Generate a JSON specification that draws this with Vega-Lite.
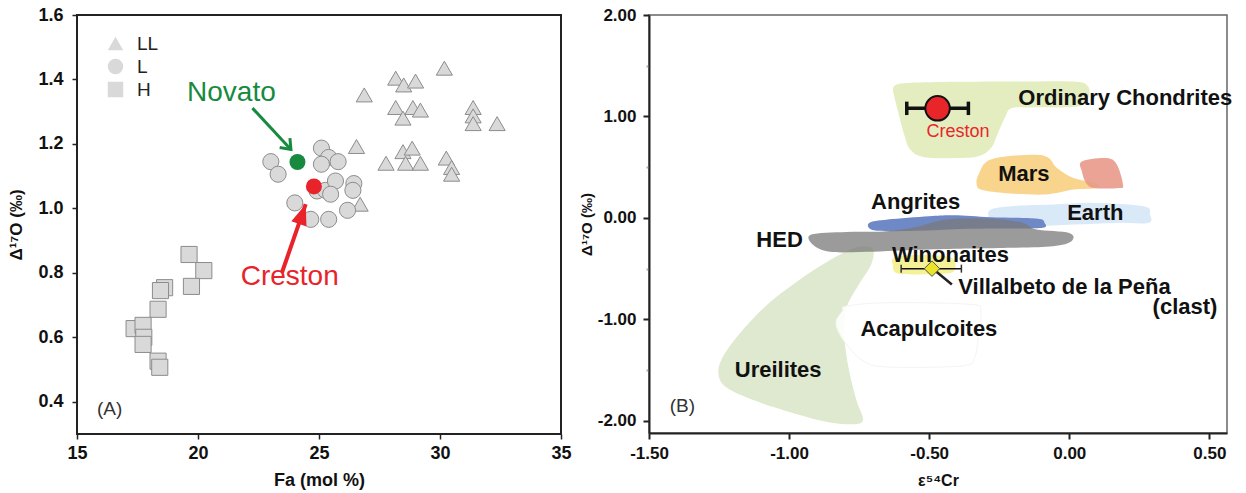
{
  "$schema": "https://vega.github.io/schema/vega-lite/v6.json",
  "background": "white",
  "padding": {"left": 6, "top": 5, "right": 5, "bottom": 2},
  "bounds": "flush",
  "spacing": 88,
  "config": {
    "font": "Liberation Sans",
    "axis": {"grid": false, "labelFont": "Liberation Sans", "titleFont": "Liberation Sans"},
    "view": {"stroke": null}
  },
  "datasets": {
    "chondrites": [
      {"group": "LL", "fa": 26.87, "d17o": 1.352}, {"group": "LL", "fa": 26.55, "d17o": 1.192},
      {"group": "LL", "fa": 26.70, "d17o": 1.013}, {"group": "LL", "fa": 27.77, "d17o": 1.140},
      {"group": "LL", "fa": 28.17, "d17o": 1.404}, {"group": "LL", "fa": 28.50, "d17o": 1.383},
      {"group": "LL", "fa": 28.17, "d17o": 1.313}, {"group": "LL", "fa": 28.47, "d17o": 1.280},
      {"group": "LL", "fa": 28.99, "d17o": 1.395}, {"group": "LL", "fa": 28.88, "d17o": 1.313},
      {"group": "LL", "fa": 29.19, "d17o": 1.305}, {"group": "LL", "fa": 28.47, "d17o": 1.176},
      {"group": "LL", "fa": 28.58, "d17o": 1.140}, {"group": "LL", "fa": 28.85, "d17o": 1.187},
      {"group": "LL", "fa": 29.19, "d17o": 1.140}, {"group": "LL", "fa": 30.18, "d17o": 1.435},
      {"group": "LL", "fa": 30.26, "d17o": 1.156}, {"group": "LL", "fa": 30.48, "d17o": 1.127},
      {"group": "LL", "fa": 30.48, "d17o": 1.106}, {"group": "LL", "fa": 31.37, "d17o": 1.313},
      {"group": "LL", "fa": 31.37, "d17o": 1.287}, {"group": "LL", "fa": 31.37, "d17o": 1.263},
      {"group": "LL", "fa": 32.36, "d17o": 1.263},
      {"group": "L", "fa": 23.01, "d17o": 1.145}, {"group": "L", "fa": 23.31, "d17o": 1.106},
      {"group": "L", "fa": 25.10, "d17o": 1.187}, {"group": "L", "fa": 25.40, "d17o": 1.158},
      {"group": "L", "fa": 25.10, "d17o": 1.137}, {"group": "L", "fa": 25.79, "d17o": 1.145},
      {"group": "L", "fa": 24.92, "d17o": 1.054}, {"group": "L", "fa": 25.27, "d17o": 1.056},
      {"group": "L", "fa": 25.68, "d17o": 1.085}, {"group": "L", "fa": 26.44, "d17o": 1.077},
      {"group": "L", "fa": 26.40, "d17o": 1.056}, {"group": "L", "fa": 25.48, "d17o": 1.044},
      {"group": "L", "fa": 24.00, "d17o": 1.017}, {"group": "L", "fa": 24.66, "d17o": 0.966},
      {"group": "L", "fa": 25.40, "d17o": 0.966}, {"group": "L", "fa": 26.18, "d17o": 0.994},
      {"group": "H", "fa": 19.63, "d17o": 0.857}, {"group": "H", "fa": 20.24, "d17o": 0.807},
      {"group": "H", "fa": 19.73, "d17o": 0.758}, {"group": "H", "fa": 18.62, "d17o": 0.754},
      {"group": "H", "fa": 18.45, "d17o": 0.745}, {"group": "H", "fa": 18.35, "d17o": 0.687},
      {"group": "H", "fa": 17.36, "d17o": 0.627}, {"group": "H", "fa": 17.73, "d17o": 0.637},
      {"group": "H", "fa": 17.76, "d17o": 0.600}, {"group": "H", "fa": 17.73, "d17o": 0.578},
      {"group": "H", "fa": 18.35, "d17o": 0.526}, {"group": "H", "fa": 18.42, "d17o": 0.507}
    ],
    "falls": [
      {"name": "Novato", "fa": 24.11, "d17o": 1.144, "lx": 21.38, "ly": 1.357},
      {"name": "Creston", "fa": 24.79, "d17o": 1.068, "lx": 23.79, "ly": 0.788}
    ],
    "arrows": [
      {"name": "Novato", "x1": 22.25, "y1": 1.311, "x2": 23.84, "y2": 1.183},
      {"name": "Creston", "x1": 23.47, "y1": 0.801, "x2": 24.45, "y2": 1.013}
    ],
    "regions": [
      {"region": "Ureilites", "i": 1, "x": -0.795, "y": -0.328},
      {"region": "Ureilites", "i": 2, "x": -0.736, "y": -0.279},
      {"region": "Ureilites", "i": 3, "x": -0.700, "y": -0.311},
      {"region": "Ureilites", "i": 4, "x": -0.707, "y": -0.459},
      {"region": "Ureilites", "i": 5, "x": -0.751, "y": -0.656},
      {"region": "Ureilites", "i": 6, "x": -0.795, "y": -0.885},
      {"region": "Ureilites", "i": 7, "x": -0.803, "y": -1.148},
      {"region": "Ureilites", "i": 8, "x": -0.788, "y": -1.475},
      {"region": "Ureilites", "i": 9, "x": -0.759, "y": -1.803},
      {"region": "Ureilites", "i": 10, "x": -0.736, "y": -1.984},
      {"region": "Ureilites", "i": 11, "x": -0.766, "y": -2.033},
      {"region": "Ureilites", "i": 12, "x": -0.854, "y": -2.016},
      {"region": "Ureilites", "i": 13, "x": -0.972, "y": -1.934},
      {"region": "Ureilites", "i": 14, "x": -1.120, "y": -1.803},
      {"region": "Ureilites", "i": 15, "x": -1.223, "y": -1.672},
      {"region": "Ureilites", "i": 16, "x": -1.252, "y": -1.541},
      {"region": "Ureilites", "i": 17, "x": -1.238, "y": -1.377},
      {"region": "Ureilites", "i": 18, "x": -1.179, "y": -1.148},
      {"region": "Ureilites", "i": 19, "x": -1.090, "y": -0.885},
      {"region": "Ureilites", "i": 20, "x": -1.002, "y": -0.689},
      {"region": "Ureilites", "i": 21, "x": -0.899, "y": -0.492},
      {"region": "Acapulcoites", "i": 1, "x": -0.795, "y": -0.869},
      {"region": "Acapulcoites", "i": 2, "x": -0.648, "y": -0.836},
      {"region": "Acapulcoites", "i": 3, "x": -0.353, "y": -0.852},
      {"region": "Acapulcoites", "i": 4, "x": -0.316, "y": -0.918},
      {"region": "Acapulcoites", "i": 5, "x": -0.324, "y": -1.148},
      {"region": "Acapulcoites", "i": 6, "x": -0.338, "y": -1.377},
      {"region": "Acapulcoites", "i": 7, "x": -0.383, "y": -1.459},
      {"region": "Acapulcoites", "i": 8, "x": -0.648, "y": -1.469},
      {"region": "Acapulcoites", "i": 9, "x": -0.736, "y": -1.410},
      {"region": "Acapulcoites", "i": 10, "x": -0.795, "y": -1.246},
      {"region": "Acapulcoites", "i": 11, "x": -0.825, "y": -1.115},
      {"region": "Acapulcoites", "i": 12, "x": -0.832, "y": -1.016},
      {"region": "Acapulcoites", "i": 13, "x": -0.810, "y": -0.918},
      {"region": "Ordinary Chondrites", "i": 1, "x": -0.626, "y": 1.295},
      {"region": "Ordinary Chondrites", "i": 2, "x": -0.589, "y": 1.328},
      {"region": "Ordinary Chondrites", "i": 3, "x": -0.450, "y": 1.340},
      {"region": "Ordinary Chondrites", "i": 4, "x": -0.206, "y": 1.344},
      {"region": "Ordinary Chondrites", "i": 5, "x": 0.015, "y": 1.344},
      {"region": "Ordinary Chondrites", "i": 6, "x": 0.067, "y": 1.295},
      {"region": "Ordinary Chondrites", "i": 7, "x": 0.067, "y": 1.180},
      {"region": "Ordinary Chondrites", "i": 8, "x": 0.030, "y": 1.098},
      {"region": "Ordinary Chondrites", "i": 9, "x": -0.132, "y": 1.089},
      {"region": "Ordinary Chondrites", "i": 10, "x": -0.206, "y": 1.082},
      {"region": "Ordinary Chondrites", "i": 11, "x": -0.228, "y": 1.000},
      {"region": "Ordinary Chondrites", "i": 12, "x": -0.257, "y": 0.820},
      {"region": "Ordinary Chondrites", "i": 13, "x": -0.279, "y": 0.689},
      {"region": "Ordinary Chondrites", "i": 14, "x": -0.324, "y": 0.607},
      {"region": "Ordinary Chondrites", "i": 15, "x": -0.397, "y": 0.590},
      {"region": "Ordinary Chondrites", "i": 16, "x": -0.515, "y": 0.597},
      {"region": "Ordinary Chondrites", "i": 17, "x": -0.567, "y": 0.672},
      {"region": "Ordinary Chondrites", "i": 18, "x": -0.589, "y": 0.820},
      {"region": "Ordinary Chondrites", "i": 19, "x": -0.611, "y": 1.049},
      {"region": "Ordinary Chondrites", "i": 20, "x": -0.626, "y": 1.213},
      {"region": "Mars", "i": 1, "x": -0.324, "y": 0.426},
      {"region": "Mars", "i": 2, "x": -0.294, "y": 0.557},
      {"region": "Mars", "i": 3, "x": -0.221, "y": 0.607},
      {"region": "Mars", "i": 4, "x": -0.117, "y": 0.623},
      {"region": "Mars", "i": 5, "x": -0.073, "y": 0.590},
      {"region": "Mars", "i": 6, "x": -0.044, "y": 0.492},
      {"region": "Mars", "i": 7, "x": 0.015, "y": 0.393},
      {"region": "Mars", "i": 8, "x": 0.089, "y": 0.344},
      {"region": "Mars", "i": 9, "x": 0.104, "y": 0.295},
      {"region": "Mars", "i": 10, "x": 0.015, "y": 0.279},
      {"region": "Mars", "i": 11, "x": -0.088, "y": 0.230},
      {"region": "Mars", "i": 12, "x": -0.235, "y": 0.246},
      {"region": "Mars", "i": 13, "x": -0.316, "y": 0.279},
      {"region": "Mars", "i": 14, "x": -0.331, "y": 0.344},
      {"region": "Other", "i": 1, "x": 0.045, "y": 0.557},
      {"region": "Other", "i": 2, "x": 0.133, "y": 0.590},
      {"region": "Other", "i": 3, "x": 0.170, "y": 0.525},
      {"region": "Other", "i": 4, "x": 0.192, "y": 0.328},
      {"region": "Other", "i": 5, "x": 0.177, "y": 0.295},
      {"region": "Other", "i": 6, "x": 0.089, "y": 0.295},
      {"region": "Other", "i": 7, "x": 0.060, "y": 0.344},
      {"region": "Other", "i": 8, "x": 0.045, "y": 0.459},
      {"region": "Earth", "i": 1, "x": -0.280, "y": 0.082},
      {"region": "Earth", "i": 2, "x": -0.206, "y": 0.115},
      {"region": "Earth", "i": 3, "x": -0.058, "y": 0.131},
      {"region": "Earth", "i": 4, "x": 0.089, "y": 0.148},
      {"region": "Earth", "i": 5, "x": 0.266, "y": 0.115},
      {"region": "Earth", "i": 6, "x": 0.288, "y": 0.033},
      {"region": "Earth", "i": 7, "x": 0.281, "y": -0.049},
      {"region": "Earth", "i": 8, "x": 0.163, "y": -0.049},
      {"region": "Earth", "i": 9, "x": 0.015, "y": -0.066},
      {"region": "Earth", "i": 10, "x": -0.132, "y": -0.082},
      {"region": "Earth", "i": 11, "x": -0.265, "y": -0.072},
      {"region": "Earth", "i": 12, "x": -0.287, "y": 0.000},
      {"region": "Angrites", "i": 1, "x": -0.714, "y": -0.049},
      {"region": "Angrites", "i": 2, "x": -0.648, "y": -0.016},
      {"region": "Angrites", "i": 3, "x": -0.501, "y": 0.016},
      {"region": "Angrites", "i": 4, "x": -0.412, "y": 0.026},
      {"region": "Angrites", "i": 5, "x": -0.280, "y": 0.007},
      {"region": "Angrites", "i": 6, "x": -0.117, "y": -0.007},
      {"region": "Angrites", "i": 7, "x": -0.088, "y": -0.049},
      {"region": "Angrites", "i": 8, "x": -0.095, "y": -0.098},
      {"region": "Angrites", "i": 9, "x": -0.206, "y": -0.105},
      {"region": "Angrites", "i": 10, "x": -0.353, "y": -0.108},
      {"region": "Angrites", "i": 11, "x": -0.501, "y": -0.125},
      {"region": "Angrites", "i": 12, "x": -0.648, "y": -0.131},
      {"region": "Angrites", "i": 13, "x": -0.707, "y": -0.115},
      {"region": "HED", "i": 1, "x": -0.921, "y": -0.164},
      {"region": "HED", "i": 2, "x": -0.795, "y": -0.138},
      {"region": "HED", "i": 3, "x": -0.648, "y": -0.131},
      {"region": "HED", "i": 4, "x": -0.540, "y": -0.085},
      {"region": "HED", "i": 5, "x": -0.440, "y": -0.015},
      {"region": "HED", "i": 6, "x": -0.290, "y": -0.005},
      {"region": "HED", "i": 7, "x": -0.170, "y": -0.045},
      {"region": "HED", "i": 8, "x": -0.117, "y": -0.115},
      {"region": "HED", "i": 9, "x": 0.000, "y": -0.148},
      {"region": "HED", "i": 10, "x": 0.008, "y": -0.230},
      {"region": "HED", "i": 11, "x": -0.058, "y": -0.279},
      {"region": "HED", "i": 12, "x": -0.206, "y": -0.295},
      {"region": "HED", "i": 13, "x": -0.501, "y": -0.311},
      {"region": "HED", "i": 14, "x": -0.722, "y": -0.334},
      {"region": "HED", "i": 15, "x": -0.854, "y": -0.334},
      {"region": "HED", "i": 16, "x": -0.916, "y": -0.262},
      {"region": "Winonaites", "i": 1, "x": -0.626, "y": -0.393},
      {"region": "Winonaites", "i": 2, "x": -0.560, "y": -0.367},
      {"region": "Winonaites", "i": 3, "x": -0.442, "y": -0.377},
      {"region": "Winonaites", "i": 4, "x": -0.409, "y": -0.426},
      {"region": "Winonaites", "i": 5, "x": -0.412, "y": -0.525},
      {"region": "Winonaites", "i": 6, "x": -0.456, "y": -0.551},
      {"region": "Winonaites", "i": 7, "x": -0.560, "y": -0.557},
      {"region": "Winonaites", "i": 8, "x": -0.619, "y": -0.541},
      {"region": "Winonaites", "i": 9, "x": -0.630, "y": -0.459}
    ],
    "samples": [
      {"name": "Creston", "x": -0.47, "y": 1.08, "xlo": -0.58, "xhi": -0.36},
      {"name": "Villalbeto de la Peña", "x": -0.49, "y": -0.50, "xlo": -0.60, "xhi": -0.385}
    ],
    "groupLabels": [
      {"label": "Ordinary Chondrites", "x": 0.20, "y": 1.18},
      {"label": "Mars", "x": -0.162, "y": 0.433},
      {"label": "Angrites", "x": -0.548, "y": 0.157},
      {"label": "Earth", "x": 0.093, "y": 0.049},
      {"label": "HED", "x": -1.034, "y": -0.213},
      {"label": "Winonaites", "x": -0.424, "y": -0.361},
      {"label": "Villalbeto de la Peña", "x": -0.017, "y": -0.682},
      {"label": "(clast)", "x": 0.413, "y": -0.879},
      {"label": "Acapulcoites", "x": -0.501, "y": -1.098},
      {"label": "Ureilites", "x": -1.039, "y": -1.502}
    ]
  },
  "hconcat": [
    {
      "width": 484,
      "height": 419,
      "view": {"stroke": "#222", "strokeWidth": 2},
      "layer": [
        {
          "data": {"name": "chondrites"},
          "mark": {"type": "point", "filled": true, "fill": "#d9d9d9", "stroke": "#8c8c8c", "strokeWidth": 1, "opacity": 1, "size": 260},
          "encoding": {
            "x": {
              "field": "fa", "type": "quantitative", "title": "Fa (mol %)",
              "scale": {"domain": [15, 35], "nice": false, "zero": false},
              "axis": {
                "domain": false, "ticks": true, "tickSize": 5, "tickColor": "#222", "tickWidth": 1.5,
                "values": [15, 20, 25, 30, 35],
                "labelFlush": false, "labelOverlap": false,
                "labelFontSize": 18, "labelFontWeight": "bold", "labelColor": "#111", "labelPadding": 5,
                "titleFontSize": 18, "titleFontWeight": "bold", "titleColor": "#111", "titlePadding": 9
              }
            },
            "y": {
              "field": "d17o", "type": "quantitative", "title": "Δ¹⁷O (‰)",
              "scale": {"domain": [0.3, 1.6], "nice": false, "zero": false},
              "axis": {
                "domain": false, "ticks": true, "tickSize": 5, "tickColor": "#222", "tickWidth": 1.5,
                "values": [0.4, 0.6, 0.8, 1.0, 1.2, 1.4, 1.6],
                "labelExpr": "format(datum.value, '.1f')",
                "labelFlush": false, "labelOverlap": false,
                "labelFontSize": 18, "labelFontWeight": "bold", "labelColor": "#111", "labelPadding": 9,
                "titleFontSize": 17, "titleFontWeight": "bold", "titleColor": "#111", "titlePadding": 12
              }
            },
            "shape": {
              "field": "group", "type": "nominal",
              "scale": {"domain": ["LL", "L", "H"], "range": ["triangle-up", "circle", "square"]},
              "legend": {
                "title": null, "orient": "top-left", "offset": 19, "padding": 0,
                "symbolSize": 240, "symbolOffset": 10, "symbolFillColor": "#d9d9d9", "symbolStrokeColor": "#555", "symbolStrokeWidth": 1,
                "labelFontSize": 19, "labelColor": "#222", "labelOffset": 12, "rowPadding": 2
              }
            }
          }
        },
        {
          "data": {"name": "falls"},
          "mark": {"type": "point", "filled": true, "opacity": 1, "size": 256, "strokeWidth": 0},
          "encoding": {
            "x": {"field": "fa", "type": "quantitative", "title": "Fa (mol %)"},
            "y": {"field": "d17o", "type": "quantitative", "title": "Δ¹⁷O (‰)"},
            "color": {"field": "name", "type": "nominal", "scale": {"domain": ["Novato", "Creston"], "range": ["#178a3f", "#e8232a"]}, "legend": null}
          }
        },
        {
          "data": {"name": "falls"},
          "mark": {"type": "text", "fontSize": 28, "baseline": "middle", "align": "center"},
          "encoding": {
            "x": {"field": "lx", "type": "quantitative", "title": "Fa (mol %)"},
            "y": {"field": "ly", "type": "quantitative", "title": "Δ¹⁷O (‰)"},
            "text": {"field": "name"},
            "color": {"field": "name", "type": "nominal", "legend": null}
          }
        },
        {
          "data": {"name": "arrows"},
          "transform": [{"filter": "datum.name === 'Novato'"}],
          "mark": {"type": "rule", "color": "#178a3f", "strokeWidth": 3},
          "encoding": {
            "x": {"field": "x1", "type": "quantitative", "title": "Fa (mol %)"},
            "y": {"field": "y1", "type": "quantitative", "title": "Δ¹⁷O (‰)"},
            "x2": {"field": "x2"},
            "y2": {"field": "y2"}
          }
        },
        {
          "data": {"name": "arrows"},
          "transform": [{"filter": "datum.name === 'Novato'"}],
          "mark": {"type": "point", "shape": "M-0.7,0.9L0,0L0.7,0.9", "filled": false, "stroke": "#178a3f", "strokeWidth": 3, "opacity": 1, "size": 400, "angle": 137},
          "encoding": {
            "x": {"field": "x2", "type": "quantitative", "title": "Fa (mol %)"},
            "y": {"field": "y2", "type": "quantitative", "title": "Δ¹⁷O (‰)"}
          }
        },
        {
          "data": {"name": "arrows"},
          "transform": [{"filter": "datum.name === 'Creston'"}],
          "mark": {"type": "rule", "color": "#e8232a", "strokeWidth": 4},
          "encoding": {
            "x": {"field": "x1", "type": "quantitative", "title": "Fa (mol %)"},
            "y": {"field": "y1", "type": "quantitative", "title": "Δ¹⁷O (‰)"},
            "x2": {"field": "x2"},
            "y2": {"field": "y2"}
          }
        },
        {
          "data": {"name": "arrows"},
          "transform": [{"filter": "datum.name === 'Creston'"}],
          "mark": {"type": "point", "shape": "M0,0L-1,2.6L1,2.6Z", "filled": true, "fill": "#e8232a", "strokeWidth": 0, "opacity": 1, "size": 256, "angle": 19},
          "encoding": {
            "x": {"field": "x2", "type": "quantitative", "title": "Fa (mol %)"},
            "y": {"field": "y2", "type": "quantitative", "title": "Δ¹⁷O (‰)"}
          }
        },
        {
          "data": {"values": [{"tag": "(A)", "x": 16.35, "y": 0.378}]},
          "mark": {"type": "text", "fontSize": 19, "color": "#333", "align": "center", "baseline": "middle"},
          "encoding": {
            "x": {"field": "x", "type": "quantitative", "title": "Fa (mol %)"},
            "y": {"field": "y", "type": "quantitative", "title": "Δ¹⁷O (‰)"},
            "text": {"field": "tag"}
          }
        }
      ]
    },
    {
      "width": 578,
      "height": 418,
      "view": {"stroke": "#666", "strokeWidth": 1.5},
      "layer": [
        {
          "data": {"name": "regions"},
          "transform": [{"filter": "datum.region === 'Ureilites'"}],
          "mark": {"type": "line", "interpolate": "cardinal-closed", "fill": "#dfe9cf", "strokeWidth": 0},
          "encoding": {
            "x": {
              "field": "x", "type": "quantitative", "title": "ε⁵⁴Cr",
              "scale": {"domain": [-1.5, 0.563], "nice": false, "zero": false},
              "axis": {
                "values": [-1.5, -1, -0.5, 0, 0.5],
                "labelExpr": "replace(format(datum.value, '.2f'), '−', '-')",
                "labelFlush": false, "labelOverlap": false,
                "labelFontSize": 17, "labelFontWeight": "bold", "labelColor": "#111", "labelPadding": 6,
                "tickSize": 6, "tickColor": "#222", "tickWidth": 2,
                "domainColor": "#222", "domainWidth": 2,
                "titleFontSize": 16, "titleFontWeight": "bold", "titleColor": "#111", "titlePadding": 11
              }
            },
            "y": {
              "field": "y", "type": "quantitative", "title": "Δ¹⁷O (‰)",
              "scale": {"domain": [-2.12, 2.0], "nice": false, "zero": false},
              "axis": {
                "values": [-2, -1.5, -1, -0.5, 0, 0.5, 1, 1.5, 2],
                "labelExpr": "abs(datum.value % 1) < 0.01 ? replace(format(datum.value, '.2f'), '−', '-') : ''",
                "labelFlush": false, "labelOverlap": false,
                "labelFontSize": 17, "labelFontWeight": "bold", "labelColor": "#111", "labelPadding": 7,
                "tickSize": {"condition": {"test": "abs(datum.value % 1) > 0.01", "value": 3}, "value": 6},
                "tickColor": {"condition": {"test": "abs(datum.value % 1) > 0.01", "value": "#aaa"}, "value": "#222"},
                "tickWidth": 2,
                "domainColor": "#222", "domainWidth": 2,
                "titleFontSize": 15, "titleFontWeight": "bold", "titleColor": "#111", "titlePadding": 3
              }
            },
            "order": {"field": "i", "type": "quantitative"}
          }
        },
        {
          "data": {"name": "regions"},
          "transform": [{"filter": "datum.region === 'Acapulcoites'"}],
          "mark": {"type": "line", "interpolate": "cardinal-closed", "fill": "#ffffff", "fillOpacity": 0.88, "stroke": "#f3f5f1", "strokeWidth": 1},
          "encoding": {
            "x": {"field": "x", "type": "quantitative", "title": "ε⁵⁴Cr"},
            "y": {"field": "y", "type": "quantitative", "title": "Δ¹⁷O (‰)"},
            "order": {"field": "i", "type": "quantitative"}
          }
        },
        {
          "data": {"name": "regions"},
          "transform": [{"filter": "datum.region === 'Ordinary Chondrites'"}],
          "mark": {"type": "line", "interpolate": "cardinal-closed", "fill": "#e3edc0", "strokeWidth": 0},
          "encoding": {
            "x": {"field": "x", "type": "quantitative", "title": "ε⁵⁴Cr"},
            "y": {"field": "y", "type": "quantitative", "title": "Δ¹⁷O (‰)"},
            "order": {"field": "i", "type": "quantitative"}
          }
        },
        {
          "data": {"name": "regions"},
          "transform": [{"filter": "datum.region === 'Mars'"}],
          "mark": {"type": "line", "interpolate": "cardinal-closed", "fill": "#f9d48c", "strokeWidth": 0},
          "encoding": {
            "x": {"field": "x", "type": "quantitative", "title": "ε⁵⁴Cr"},
            "y": {"field": "y", "type": "quantitative", "title": "Δ¹⁷O (‰)"},
            "order": {"field": "i", "type": "quantitative"}
          }
        },
        {
          "data": {"name": "regions"},
          "transform": [{"filter": "datum.region === 'Other'"}],
          "mark": {"type": "line", "interpolate": "cardinal-closed", "fill": "#e8998a", "fillOpacity": 0.9, "strokeWidth": 0},
          "encoding": {
            "x": {"field": "x", "type": "quantitative", "title": "ε⁵⁴Cr"},
            "y": {"field": "y", "type": "quantitative", "title": "Δ¹⁷O (‰)"},
            "order": {"field": "i", "type": "quantitative"}
          }
        },
        {
          "data": {"name": "regions"},
          "transform": [{"filter": "datum.region === 'Earth'"}],
          "mark": {"type": "line", "interpolate": "cardinal-closed", "fill": "#d9e9f8", "strokeWidth": 0},
          "encoding": {
            "x": {"field": "x", "type": "quantitative", "title": "ε⁵⁴Cr"},
            "y": {"field": "y", "type": "quantitative", "title": "Δ¹⁷O (‰)"},
            "order": {"field": "i", "type": "quantitative"}
          }
        },
        {
          "data": {"name": "regions"},
          "transform": [{"filter": "datum.region === 'Angrites'"}],
          "mark": {"type": "line", "interpolate": "cardinal-closed", "fill": "#6f89c6", "strokeWidth": 0},
          "encoding": {
            "x": {"field": "x", "type": "quantitative", "title": "ε⁵⁴Cr"},
            "y": {"field": "y", "type": "quantitative", "title": "Δ¹⁷O (‰)"},
            "order": {"field": "i", "type": "quantitative"}
          }
        },
        {
          "data": {"name": "regions"},
          "transform": [{"filter": "datum.region === 'HED'"}],
          "mark": {"type": "line", "interpolate": "cardinal-closed", "fill": "#7a7a7a", "fillOpacity": 0.75, "strokeWidth": 0},
          "encoding": {
            "x": {"field": "x", "type": "quantitative", "title": "ε⁵⁴Cr"},
            "y": {"field": "y", "type": "quantitative", "title": "Δ¹⁷O (‰)"},
            "order": {"field": "i", "type": "quantitative"}
          }
        },
        {
          "data": {"name": "regions"},
          "transform": [{"filter": "datum.region === 'Winonaites'"}],
          "mark": {"type": "line", "interpolate": "cardinal-closed", "fill": "#f3ef8e", "fillOpacity": 0.9, "strokeWidth": 0},
          "encoding": {
            "x": {"field": "x", "type": "quantitative", "title": "ε⁵⁴Cr"},
            "y": {"field": "y", "type": "quantitative", "title": "Δ¹⁷O (‰)"},
            "order": {"field": "i", "type": "quantitative"}
          }
        },
        {
          "data": {"name": "samples"},
          "mark": {"type": "rule", "color": "#111"},
          "encoding": {
            "x": {"field": "xlo", "type": "quantitative", "title": "ε⁵⁴Cr"},
            "x2": {"field": "xhi"},
            "y": {"field": "y", "type": "quantitative", "title": "Δ¹⁷O (‰)"},
            "strokeWidth": {"field": "name", "type": "nominal", "scale": {"domain": ["Creston", "Villalbeto de la Peña"], "range": [3.5, 1.5]}, "legend": null}
          }
        },
        {
          "data": {"name": "samples"},
          "transform": [{"filter": "datum.name === 'Creston'"}],
          "mark": {"type": "point", "shape": "M0,-1L0,1", "filled": false, "stroke": "#111", "strokeWidth": 3.5, "opacity": 1, "size": 180},
          "encoding": {
            "x": {"field": "xlo", "type": "quantitative", "title": "ε⁵⁴Cr"},
            "y": {"field": "y", "type": "quantitative", "title": "Δ¹⁷O (‰)"}
          }
        },
        {
          "data": {"name": "samples"},
          "transform": [{"filter": "datum.name === 'Creston'"}],
          "mark": {"type": "point", "shape": "M0,-1L0,1", "filled": false, "stroke": "#111", "strokeWidth": 3.5, "opacity": 1, "size": 180},
          "encoding": {
            "x": {"field": "xhi", "type": "quantitative", "title": "ε⁵⁴Cr"},
            "y": {"field": "y", "type": "quantitative", "title": "Δ¹⁷O (‰)"}
          }
        },
        {
          "data": {"name": "samples"},
          "transform": [{"filter": "datum.name !== 'Creston'"}],
          "mark": {"type": "point", "shape": "M0,-1L0,1", "filled": false, "stroke": "#333", "strokeWidth": 1.5, "opacity": 1, "size": 64},
          "encoding": {
            "x": {"field": "xlo", "type": "quantitative", "title": "ε⁵⁴Cr"},
            "y": {"field": "y", "type": "quantitative", "title": "Δ¹⁷O (‰)"}
          }
        },
        {
          "data": {"name": "samples"},
          "transform": [{"filter": "datum.name !== 'Creston'"}],
          "mark": {"type": "point", "shape": "M0,-1L0,1", "filled": false, "stroke": "#333", "strokeWidth": 1.5, "opacity": 1, "size": 64},
          "encoding": {
            "x": {"field": "xhi", "type": "quantitative", "title": "ε⁵⁴Cr"},
            "y": {"field": "y", "type": "quantitative", "title": "Δ¹⁷O (‰)"}
          }
        },
        {
          "data": {"values": [{"x1": -0.474, "y1": -0.531, "x2": -0.419, "y2": -0.656}]},
          "mark": {"type": "rule", "color": "#222", "strokeWidth": 2.5},
          "encoding": {
            "x": {"field": "x1", "type": "quantitative", "title": "ε⁵⁴Cr"},
            "y": {"field": "y1", "type": "quantitative", "title": "Δ¹⁷O (‰)"},
            "x2": {"field": "x2"},
            "y2": {"field": "y2"}
          }
        },
        {
          "data": {"name": "samples"},
          "transform": [{"filter": "datum.name !== 'Creston'"}],
          "mark": {"type": "point", "shape": "diamond", "filled": true, "fill": "#ece32b", "stroke": "#555", "strokeWidth": 1, "opacity": 1, "size": 240},
          "encoding": {
            "x": {"field": "x", "type": "quantitative", "title": "ε⁵⁴Cr"},
            "y": {"field": "y", "type": "quantitative", "title": "Δ¹⁷O (‰)"}
          }
        },
        {
          "data": {"name": "samples"},
          "transform": [{"filter": "datum.name === 'Creston'"}],
          "mark": {"type": "point", "shape": "circle", "filled": true, "fill": "#e8262a", "stroke": "#111", "strokeWidth": 2, "opacity": 1, "size": 600},
          "encoding": {
            "x": {"field": "x", "type": "quantitative", "title": "ε⁵⁴Cr"},
            "y": {"field": "y", "type": "quantitative", "title": "Δ¹⁷O (‰)"}
          }
        },
        {
          "data": {"values": [{"label": "Creston", "x": -0.397, "y": 0.846}]},
          "mark": {"type": "text", "fontSize": 18, "color": "#e8262a", "align": "center", "baseline": "middle"},
          "encoding": {
            "x": {"field": "x", "type": "quantitative", "title": "ε⁵⁴Cr"},
            "y": {"field": "y", "type": "quantitative", "title": "Δ¹⁷O (‰)"},
            "text": {"field": "label"}
          }
        },
        {
          "data": {"name": "groupLabels"},
          "mark": {"type": "text", "fontSize": 22, "fontWeight": "bold", "color": "#111", "align": "center", "baseline": "middle"},
          "encoding": {
            "x": {"field": "x", "type": "quantitative", "title": "ε⁵⁴Cr"},
            "y": {"field": "y", "type": "quantitative", "title": "Δ¹⁷O (‰)"},
            "text": {"field": "label"}
          }
        },
        {
          "data": {"values": [{"tag": "(B)", "x": -1.381, "y": -1.852}]},
          "mark": {"type": "text", "fontSize": 19, "color": "#333", "align": "center", "baseline": "middle"},
          "encoding": {
            "x": {"field": "x", "type": "quantitative", "title": "ε⁵⁴Cr"},
            "y": {"field": "y", "type": "quantitative", "title": "Δ¹⁷O (‰)"},
            "text": {"field": "tag"}
          }
        }
      ]
    }
  ]
}
